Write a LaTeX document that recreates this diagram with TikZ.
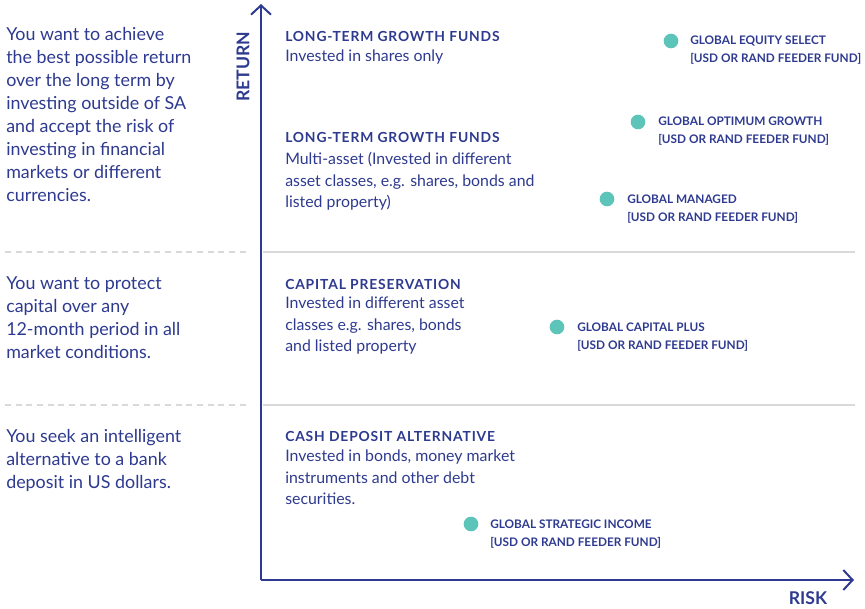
\documentclass[tikz,border=0pt]{standalone}
\usepackage{fontspec}
\setmainfont{Lato}
\usepackage{tikz}
\usetikzlibrary{arrows.meta,positioning}

\definecolor{Navy}{HTML}{2E3A8F}
\definecolor{Teal}{HTML}{5CC4B9}
\definecolor{Rule}{HTML}{D9D9D9}

\begin{document}
\begin{tikzpicture}[x=0.75pt,y=-0.75pt]
			\tikzstyle{Axis}	= [line width=1.5pt, Navy, -{Straight Barb[length=7pt,width=15pt]}]
			\tikzstyle{Split}	= [line width=1.5pt, Rule]
			\tikzstyle{Guide}	= [Split, dash pattern=on 4.5pt off 3.5pt]
			\tikzstyle{Need}	= [anchor=north west, inner sep=0pt, align=left, Navy, font=\fontsize{13.4}{17.25}\selectfont]
			\tikzstyle{Head}	= [anchor=base west, inner sep=0pt, Navy, font=\bfseries\fontsize{10.4}{12}\selectfont\addfontfeatures{LetterSpace=6}]
			\tikzstyle{Body}	= [anchor=north west, inner sep=0pt, align=left, Navy, font=\fontsize{11.9}{16.1}\selectfont]
			\tikzstyle{Dot}		= [circle, fill=Teal, minimum size=11pt, inner sep=0pt]
			\tikzstyle{Fund}	= [anchor=west, inner sep=0pt, align=left, Navy, font=\bfseries\fontsize{8.85}{13.5}\selectfont]
			\tikzstyle{Name}	= [inner sep=0pt, Navy, font=\bfseries\fontsize{13.2}{14}\selectfont]

			\useasboundingbox (0,0) rectangle (865,608);

			% axes
			\coordinate (o) at (261,580);
			\coordinate (top) at (261,4);
			\coordinate (right) at (854,580);
			\draw [Axis] (o) to (top);
			\draw [Axis] (o) to (right);
			\node (ret) at (243,67) [Name, rotate=90] {RETURN};
			\node (risk) at (808,598) [Name] {RISK};

			% band borders
			\coordinate (g1a) at (5,252);
			\coordinate (g1b) at (247,252);
			\coordinate (s1a) at (263,252);
			\coordinate (s1b) at (855,252);
			\coordinate (g2a) at (5,405);
			\coordinate (g2b) at (247,405);
			\coordinate (s2a) at (263,405);
			\coordinate (s2b) at (855,405);
			\draw [Guide] (g1a) to (g1b);
			\draw [Guide] (g2a) to (g2b);
			\draw [Split] (s1a) to (s1b);
			\draw [Split] (s2a) to (s2b);

			% investor needs
			\node (need1) at (6,27) [Need] {You want to achieve\\the best possible return\\over the long term by\\investing outside of SA\\and accept the risk of\\investing in financial\\markets or different\\currencies.};
			\node (need2) at (6,276) [Need] {You want to protect\\capital over any\\12-month period in all\\market conditions.};
			\node (need3) at (6,429) [Need] {You seek an intelligent\\alternative to a bank\\deposit in US dollars.};

			% fund categories
			\node (h1) at (285,41) [Head] {LONG-TERM GROWTH FUNDS};
			\node (b1) at (285,50) [Body] {Invested in shares only};
			\node (h2) at (285,142) [Head] {LONG-TERM GROWTH FUNDS};
			\node (b2) at (285,152) [Body] {Multi-asset (Invested in different\\asset classes, e.g. shares, bonds and\\listed property)};
			\node (h3) at (285,289) [Head] {CAPITAL PRESERVATION};
			\node (b3) at (285,297) [Body] {Invested in different asset\\classes e.g. shares, bonds\\and listed property};
			\node (h4) at (285,441) [Head] {CASH DEPOSIT ALTERNATIVE};
			\node (b4) at (285,450) [Body] {Invested in bonds, money market\\instruments and other debt\\securities.};

			% funds
			\node (d1) at (671,41) [Dot] {};
			\node (d2) at (638,122) [Dot] {};
			\node (d3) at (607,199) [Dot] {};
			\node (d4) at (557,327) [Dot] {};
			\node (d5) at (471,524) [Dot] {};
			\node (f1) at (690,50) [Fund] {GLOBAL EQUITY SELECT\\{[}USD OR RAND FEEDER FUND{]}};
			\node (f2) at (658,131) [Fund] {GLOBAL OPTIMUM GROWTH\\{[}USD OR RAND FEEDER FUND{]}};
			\node (f3) at (627,209) [Fund] {GLOBAL MANAGED\\{[}USD OR RAND FEEDER FUND{]}};
			\node (f4) at (577,337) [Fund] {GLOBAL CAPITAL PLUS\\{[}USD OR RAND FEEDER FUND{]}};
			\node (f5) at (490,534) [Fund] {GLOBAL STRATEGIC INCOME\\{[}USD OR RAND FEEDER FUND{]}};

		\end{tikzpicture}
\end{document}
